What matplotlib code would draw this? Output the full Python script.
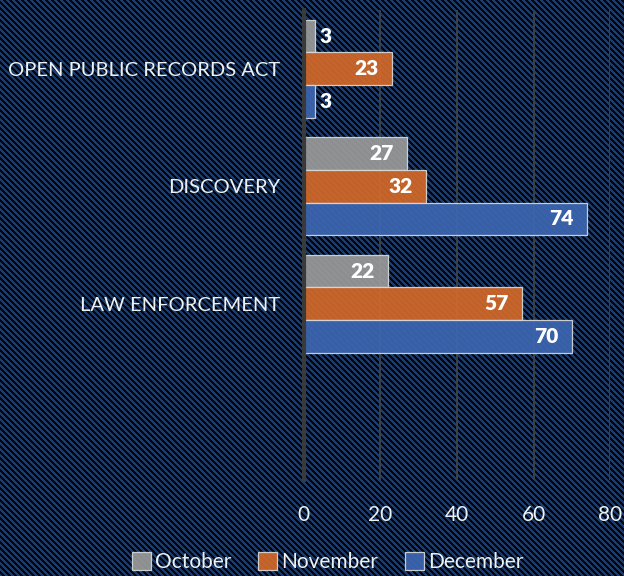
import matplotlib
matplotlib.use('Agg')
from matplotlib import pyplot as plt
import numpy as np

# data (top to bottom)
categories = ['OPEN PUBLIC RECORDS ACT', 'DISCOVERY', 'LAW ENFORCEMENT', '']
october = [3, 27, 22]
november = [23, 32, 57]
december = [3, 74, 70]
series_names = ['October', 'November', 'December']
series_colors = ['#9a9a9a', '#d2692a', '#3d66b0']
xticks = [0, 20, 40, 60, 80]

plt.rcParams['font.family'] = ['Lato', 'DejaVu Sans']

W, H = 624, 576
fig = plt.figure(figsize=(W / 100, H / 100), dpi=100)

# striped background (navy / black diagonal stripes)
bgax = fig.add_axes([0, 0, 1, 1], zorder=-10)
yy, xx = np.mgrid[0:H, 0:W]
stripe = ((xx - yy) % 6) < 3
img = np.zeros((H, W, 3))
img[stripe] = np.array([0x1c, 0x3d, 0x6c]) / 255
img[~stripe] = np.array([0x04, 0x05, 0x08]) / 255
bgax.imshow(img, aspect='auto', interpolation='nearest')
bgax.axis('off')

ax = fig.add_axes([0.487, 0.1667, 0.491, 0.816])
ax.set_facecolor('none')

y = np.arange(len(categories))
h = 0.278
all_series = [october, november, december]
for i, (vals, name, col) in enumerate(zip(all_series, series_names, series_colors)):
    pos = y[:len(vals)] + (i - 1) * h
    bars = ax.barh(pos, vals, height=h, color=col, alpha=0.93,
                   edgecolor='#d8d8d8', linewidth=0.9, label=name, zorder=3)
    for b, v in zip(bars, vals):
        cy = b.get_y() + b.get_height() / 2
        if v < 8:
            ax.text(v + 1.0, cy, str(v), color='white', fontsize=15,
                    fontweight='heavy', ha='left', va='center', zorder=4)
        else:
            ax.text(v - 3.5, cy, str(v), color='white', fontsize=15,
                    fontweight='heavy', ha='right', va='center', zorder=4)

ax.set_xlim(0, 80)
ax.set_ylim(3.5, -0.5)
ax.set_xticks(xticks)
ax.set_yticks(y)
ax.set_yticklabels(categories)
ax.tick_params(axis='both', length=0, colors='#f0f0f0', labelsize=14.5)
ax.tick_params(axis='x', labelsize=15, pad=18)
ax.tick_params(axis='y', pad=17)

ax.grid(axis='x', color='#3c4048', linewidth=1.4, zorder=0)
ax.set_axisbelow(True)
for s in ['top', 'right', 'bottom']:
    ax.spines[s].set_visible(False)
ax.spines['left'].set_color('#3a3a3a')
ax.spines['left'].set_linewidth(3)
ax.spines['left'].set_zorder(5)

fig.legend(loc='lower center', bbox_to_anchor=(0.525, -0.026), ncol=3,
           frameon=False, fontsize=15, handlelength=0.9, handleheight=0.9,
           handletextpad=0.2, columnspacing=1.3, labelcolor='#f0f0f0')

fig.savefig('out.png', dpi=100)
